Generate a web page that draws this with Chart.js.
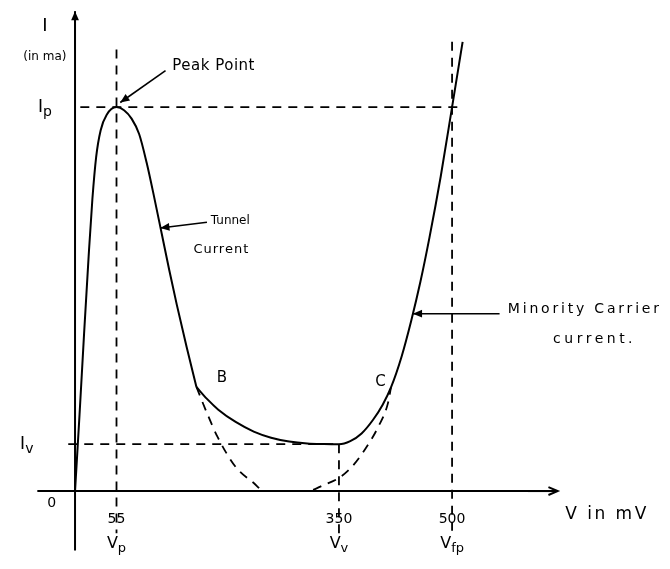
<!DOCTYPE html>
<html>
<head>
<meta charset="utf-8">
<title>Tunnel diode V-I characteristic</title>
<script src="https://cdn.jsdelivr.net/npm/chart.js@4"></script>
<style>
  body { margin: 0; background: #fff; }
  #box { width: 670px; height: 569px; }
</style>
</head>
<body>
<div id="box"><canvas id="grafico"></canvas></div>
<script>
// forward characteristic (V in mV, I in mA, scale arbitrary: Ip = 10)
const IP = 10;
const IV = 1.22;

// origin -> peak -> point B
const V_RAMO1 = [0, 6, 12, 18, 23, 28, 34, 42, 55, 65, 75, 85, 95, 105, 115, 125, 135, 148, 161];
const I_RAMO1 = [0, 2.0, 4.1, 6.1, 7.6, 8.7, 9.4, 9.8, 10, 9.92, 9.7, 9.3, 8.55, 7.65, 6.7, 5.75, 4.85, 3.75, 2.71];

// point B -> valley -> C -> diffusion current
const V_RAMO2 = [161, 175, 190, 213, 237, 260, 284, 308, 330, 350, 365, 380, 395, 408, 419, 433, 446, 458, 470, 485, 500, 514];
const I_RAMO2 = [2.71, 2.4, 2.12, 1.8, 1.55, 1.39, 1.29, 1.24, 1.225, 1.22, 1.3, 1.5, 1.85, 2.25, 2.7, 3.5, 4.45, 5.45, 6.6, 8.2, 10, 11.7];

// tunnel current alone, dashed between B and C
const V_TUNEL = [161, 175, 189, 213, 237, 251, 308, 330, 350, 367, 384, 402, 415, 419];
const I_TUNEL = [2.71, 2.03, 1.41, 0.63, 0.21, 0, 0, 0.16, 0.34, 0.63, 1.07, 1.67, 2.29, 2.7];

// x ticks and their names
const X_TICKS = [55, 350, 500];
const X_NOMES = [['V', 'p'], ['V', 'v'], ['V', 'fp']];

const pontos = (xs, ys) => xs.map((x, i) => ({ x: x, y: ys[i] }));

const traco = { borderColor: '#000', borderWidth: 1.8, borderDash: [9, 7], pointRadius: 0, fill: false };
const cheio = { borderColor: '#000', borderWidth: 2, pointRadius: 0, showLine: true, cubicInterpolationMode: 'monotone' };

const anotacoes = {
    id: 'anotacoes',
    afterDatasetsDraw(chart) {
        const ctx = chart.ctx;
        const sx = chart.scales.x, sy = chart.scales.y;
        const px = v => sx.getPixelForValue(v);
        const py = v => sy.getPixelForValue(v);
        ctx.save();
        ctx.fillStyle = '#000';
        ctx.strokeStyle = '#000';
        ctx.lineWidth = 1.6;

        function seta(x1, y1, x2, y2, aberta) {
            const a = Math.atan2(y2 - y1, x2 - x1);
            const L = 10, w = 0.4;
            ctx.beginPath();
            ctx.moveTo(x1, y1);
            ctx.lineTo(x2, y2);
            ctx.stroke();
            ctx.beginPath();
            ctx.moveTo(x2 - L * Math.cos(a - w), y2 - L * Math.sin(a - w));
            ctx.lineTo(x2, y2);
            ctx.lineTo(x2 - L * Math.cos(a + w), y2 - L * Math.sin(a + w));
            if (aberta) { ctx.stroke(); } else { ctx.closePath(); ctx.fill(); }
        }

        function texto(t, x, y, tam, alin, esp) {
            ctx.font = tam + 'px "DejaVu Sans", sans-serif';
            ctx.letterSpacing = (esp || 0) + 'px';
            ctx.textAlign = alin || 'left';
            ctx.textBaseline = 'middle';
            ctx.fillText(t, x, y);
            ctx.letterSpacing = '0px';
        }

        // base letter with a subscript
        function comIndice(base, sub, x, y, tam) {
            ctx.font = tam + 'px "DejaVu Sans", sans-serif';
            ctx.textBaseline = 'middle';
            ctx.textAlign = 'left';
            const wb = ctx.measureText(base).width;
            ctx.font = Math.round(tam * 0.8) + 'px "DejaVu Sans", sans-serif';
            const ws = ctx.measureText(sub).width;
            const x0 = x - (wb + ws) / 2;
            ctx.font = tam + 'px "DejaVu Sans", sans-serif';
            ctx.fillText(base, x0, y);
            ctx.font = Math.round(tam * 0.8) + 'px "DejaVu Sans", sans-serif';
            ctx.fillText(sub, x0 + wb, y + tam * 0.3);
        }

        // axis arrowheads
        ctx.lineWidth = 2;
        seta(px(0), py(11.5), px(0), py(12.5), false);
        seta(px(600), py(0), px(640), py(0), true);
        ctx.lineWidth = 1.6;

        // axis names
        texto('I', px(-40), py(12.1), 18, 'center');
        texto('(in ma)', px(-40), py(11.3), 12, 'center');
        texto('V in mV', px(650), py(-0.62), 17, 'left', 2.5);
        texto('0', px(-31), py(-0.32), 14, 'center');

        // y reference names
        comIndice('I', 'p', px(-40), py(IP), 17);
        comIndice('I', 'v', px(-64), py(IV), 17);

        // x tick numbers and names
        X_TICKS.forEach((v, i) => {
            texto(String(v), px(v), py(-0.75), 14, 'center');
            comIndice(X_NOMES[i][0], X_NOMES[i][1], px(v), py(-1.37), 16);
        });

        // curve annotations
        texto('Peak Point', px(129), py(11.08), 15, 'left', 0.5);
        seta(px(120), py(10.95), px(60), py(10.12), false);

        texto('Tunnel', px(180), py(7.05), 12, 'left');
        texto('Current', px(157), py(6.3), 13, 'left', 1);
        seta(px(175), py(7.0), px(113), py(6.85), false);

        texto('Minority Carrier', px(574), py(4.72), 14, 'left', 2.8);
        texto('current.', px(634), py(3.94), 14, 'left', 3.5);
        seta(px(563), py(4.62), px(448), py(4.62), false);

        texto('B', px(188), py(2.95), 15, 'left');
        texto('C', px(398), py(2.85), 15, 'left');

        ctx.restore();
    }
};

const ctx = document.getElementById('grafico').getContext('2d');
const grafico = new Chart(ctx, {
    type: 'scatter',
    data: {
        datasets: [
            // axes
            { data: [{ x: -50, y: 0 }, { x: 640, y: 0 }], showLine: true, borderColor: '#000', borderWidth: 2, pointRadius: 0 },
            { data: [{ x: 0, y: -1.55 }, { x: 0, y: 12.4 }], showLine: true, borderColor: '#000', borderWidth: 2, pointRadius: 0 },
            // Ip and Iv levels
            Object.assign({ data: [{ x: 7, y: IP }, { x: 515, y: IP }], showLine: true }, traco),
            Object.assign({ data: [{ x: -9, y: IV }, { x: 350, y: IV }], showLine: true }, traco),
            // Vp, Vv, Vfp
            Object.assign({ data: [{ x: 55, y: 11.5 }, { x: 55, y: -1.1 }], showLine: true }, traco),
            Object.assign({ data: [{ x: 350, y: IV }, { x: 350, y: -1.1 }], showLine: true }, traco),
            Object.assign({ data: [{ x: 500, y: 11.7 }, { x: 500, y: -1.1 }], showLine: true }, traco),
            // tunnel current only
            Object.assign({ data: pontos(V_TUNEL, I_TUNEL), showLine: true, cubicInterpolationMode: 'monotone' }, traco),
            // total current, in two pieces meeting at B
            Object.assign({ data: pontos(V_RAMO1, I_RAMO1) }, cheio),
            Object.assign({ data: pontos(V_RAMO2, I_RAMO2) }, cheio)
        ]
    },
    options: {
        responsive: true,
        maintainAspectRatio: false,
        animation: false,
        layout: { padding: 0 },
        plugins: { legend: { display: false }, tooltip: { enabled: false } },
        scales: {
            x: { type: 'linear', min: -99.5, max: 789, display: false },
            y: { type: 'linear', min: -2.03, max: 12.79, display: false }
        }
    },
    plugins: [anotacoes]
});
</script>
</body>
</html>
